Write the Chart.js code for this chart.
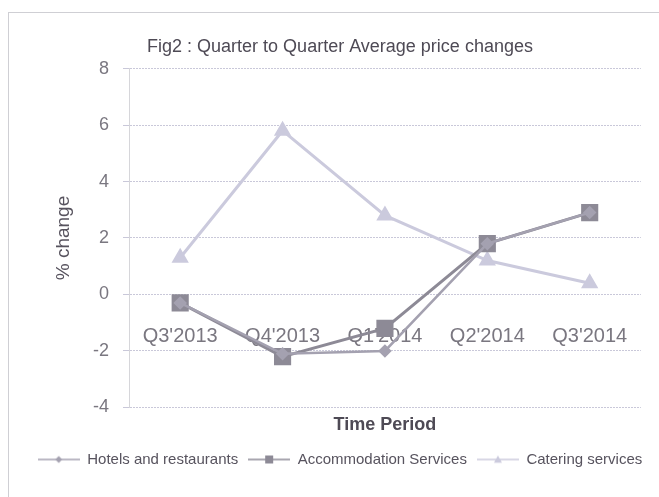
<!DOCTYPE html>
<html>
<head>
<meta charset="utf-8">
<script src="https://cdn.jsdelivr.net/npm/chart.js@4.4.1/dist/chart.umd.min.js"></script>
<style>
  html, body { margin:0; padding:0; background:#fff; }
  #wrap { position:relative; width:659px; height:497px; overflow:hidden; }
  #frame { position:absolute; left:8px; top:12px; width:700px; height:600px; border:1px solid #cfcfd4; }
  #c { position:absolute; left:0; top:0; }
</style>
</head>
<body>
<div id="wrap">
  <div id="frame"></div>
  <canvas id="c" width="659" height="497"></canvas>
</div>
<script>
// --- datos ---
const periodos = ["Q3'2013", "Q4'2013", "Q1'2014", "Q2'2014", "Q3'2014"];
const hoteles = [-0.3, -2.1, -2.0, 1.8, 2.9];
const alojamiento = [-0.3, -2.2, -1.2, 1.8, 2.9];
const catering = [1.3, 5.8, 2.8, 1.2, 0.4];
const yTicks = [-4, -2, 0, 2, 4, 6, 8];

const FONT = "'Liberation Sans', Arial, sans-serif";
const C_HOT = '#a4a1b0';
const C_ACC = '#8d8a96';
const C_CAT = '#cbcadd';

// icono de leyenda estilo Excel: línea con marcador al centro
function legendIcon(color, style, r){
  const cv = document.createElement('canvas');
  cv.width = 42; cv.height = 14;
  const ctx = cv.getContext('2d');
  ctx.strokeStyle = color; ctx.lineWidth = 1.5;
  ctx.beginPath(); ctx.moveTo(0, 7); ctx.lineTo(42, 7); ctx.stroke();
  ctx.fillStyle = color;
  ctx.beginPath();
  if (style === 'rect') ctx.rect(21 - r, 7 - r, 2*r, 2*r);
  else if (style === 'rectRot') { ctx.moveTo(21, 7-r); ctx.lineTo(21+r, 7); ctx.lineTo(21, 7+r); ctx.lineTo(21-r, 7); }
  else { ctx.moveTo(21, 7-r); ctx.lineTo(21+r, 7+r*0.8); ctx.lineTo(21-r, 7+r*0.8); }
  ctx.closePath(); ctx.fill();
  return cv;
}

const iconos = [
  legendIcon(C_HOT, 'rectRot', 3.5),
  legendIcon(C_ACC, 'rect', 4),
  legendIcon(C_CAT, 'triangle', 4)
];

new Chart(document.getElementById('c'), {
  type: 'line',
  data: {
    labels: periodos,
    datasets: [
      {label:'Hotels and restaurants', data: hoteles, borderColor: C_HOT, backgroundColor: C_HOT,
       borderWidth: 2.5, pointStyle:'rectRot', pointRadius: 5, tension: 0},
      {label:'Accommodation Services', data: alojamiento, borderColor: C_ACC, backgroundColor: C_ACC,
       borderWidth: 3, pointStyle:'rect', pointRadius: 10, tension: 0},
      {label:'Catering services', data: catering, borderColor: C_CAT, backgroundColor: C_CAT,
       borderWidth: 3, pointStyle:'triangle', pointRadius: 7, tension: 0}
    ]
  },
  options: {
    responsive: false,
    animation: false,
    layout: { padding: { left: 21, right: 0, top: 0, bottom: 20 } },
    plugins: {
      title: {
        display: true, text: 'Fig2 : Quarter to Quarter Average price changes',
        color: '#4e4a55', font: { family: FONT, size: 18, weight: 'normal' },
        padding: { top: 36, bottom: 11 }
      },
      legend: {
        position: 'bottom',
        labels: {
          color: '#57535e', font: { family: FONT, size: 15 },
          usePointStyle: true, pointStyleWidth: 42, boxHeight: 14, padding: 10,
          generateLabels: (chart) => chart.data.datasets.map((d, i) => ({
            text: d.label, pointStyle: iconos[i], fontColor: '#57535e',
            strokeStyle: 'transparent', lineWidth: 0, datasetIndex: i
          }))
        }
      },
      tooltip: { enabled: false }
    },
    scales: {
      x: {
        position: 'bottom',
        offset: true,
        grid: { display: false, drawTicks: false },
        border: { display: false },
        ticks: { display: false },
        title: { display: true, text: 'Time Period', color: '#4e4a55',
                 font: { family: FONT, size: 18, weight: 'bold' }, padding: { top: 7, bottom: 6 } }
      },
      x2: {
        type: 'category', labels: periodos,
        position: { y: 0 },
        offset: true,
        grid: { display: false, drawTicks: false },
        border: { display: false },
        ticks: { color: '#7a7780', font: { family: FONT, size: 20 }, padding: 30, maxRotation: 0 }
      },
      y: {
        min: -4, max: 8,
        afterFit: (s) => { s.width = 108; },
        afterBuildTicks: (s) => { s.ticks = yTicks.map(v => ({ value: v })); },
        grid: { color: '#c9c8d9', lineWidth: 1, tickLength: 6, drawTicks: true },
        border: { display: true, color: '#d6d6da', dash: [2, 1] },
        ticks: { color: '#7a7780', font: { family: FONT, size: 18 }, padding: 14 },
        title: { display: true, text: '% change', color: '#57535e',
                 font: { family: FONT, size: 19 }, padding: { top: 31 } }
      },
      // eje vacío a la derecha, solo para dejar el margen del original
      yRight: {
        position: 'right',
        afterFit: (s) => { s.width = 17; },
        grid: { display: false, drawTicks: false },
        border: { display: false },
        ticks: { display: false }
      }
    }
  }
});
</script>
</body>
</html>
